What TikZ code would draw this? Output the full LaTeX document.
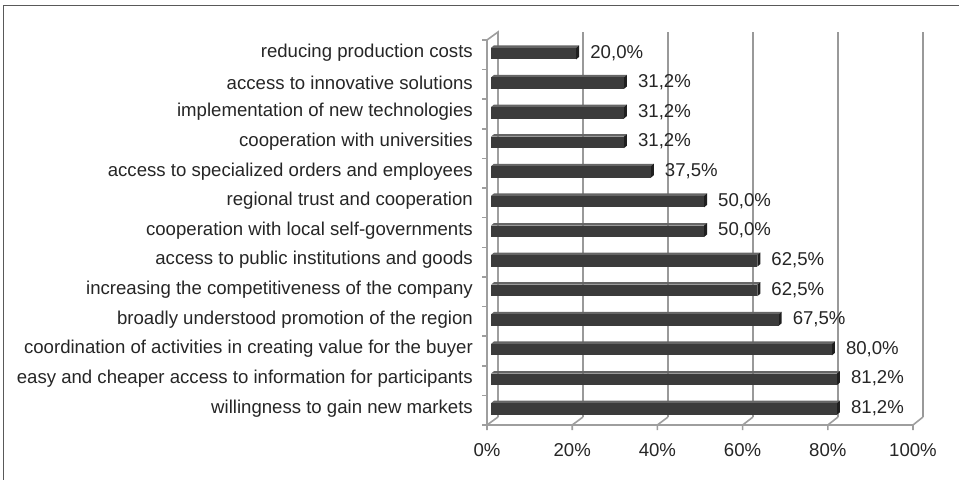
\documentclass[tikz,border=0pt]{standalone}
\usepackage{fontspec}
\setmainfont{Liberation Sans}
\begin{document}
\begin{tikzpicture}[x=1pt,y=-1pt,
  lab/.style={font=\fontsize{18.6}{21}\selectfont, text=black!85, inner sep=0pt},
  catlab/.style={lab, anchor=east},
  vallab/.style={lab, anchor=west},
  axlab/.style={lab, anchor=center},
  wall/.style={draw=black!38, line width=1.6pt},
  grid/.style={draw=black!40, line width=2pt},
  barfront/.style={fill=black!77},
  bartop/.style={fill=black!60},
  barside/.style={fill=black!88},
  frame/.style={draw=black!65, line width=1.6pt}]
\useasboundingbox (0,0) rectangle (959,480);
\fill[white] (0,0) rectangle (959,480);
% frame (top and left)
\coordinate (ftl) at (3.5,5.5);
\coordinate (ftr) at (959,5.5);
\coordinate (fbl) at (3.5,480);
\draw[frame] (ftr) -- (ftl) -- (fbl);
% back-wall gridlines and floor diagonals
\foreach \p in {20,40,60,80,100}{
  \coordinate (gb\p) at ({498+\p*4.25},32);
  \coordinate (gf\p) at ({498+\p*4.25},417);
  \coordinate (ff\p) at ({487+\p*4.26},425);
  \coordinate (ft\p) at ({487+\p*4.26},430);
  \draw[grid] (gb\p) -- (gf\p);
  \draw[wall] (gf\p) -- (ff\p) -- (ft\p);
}
% left wall
\coordinate (lwft) at (487,40);
\coordinate (lwbt) at (498,32);
\coordinate (lwbb) at (498,417);
\coordinate (lwfb) at (487,425);
\coordinate (lwtk) at (487,430);
\draw[wall] (lwbb) -- (lwbt) -- (lwft) -- (lwfb) -- (lwtk);
\draw[wall] (lwbb) -- (lwfb);
% floor front edge
\draw[wall] (lwfb) -- (ff100);
% left ticks
\foreach \k in {0,...,13}{
  \coordinate (tk\k) at (482,{40+\k*29.615});
  \coordinate (tkr\k) at (487,{40+\k*29.615});
  \draw[wall] (tk\k) -- (tkr\k);
}
% bars
\foreach \k/\v/\vt/\c in {
 0/20.0/{20,0\%}/{reducing production costs},
 1/31.2/{31,2\%}/{access to innovative solutions},
 2/31.2/{31,2\%}/{implementation of new technologies},
 3/31.2/{31,2\%}/{cooperation with universities},
 4/37.5/{37,5\%}/{access to specialized orders and employees},
 5/50.0/{50,0\%}/{regional trust and cooperation},
 6/50.0/{50,0\%}/{cooperation with local self-governments},
 7/62.5/{62,5\%}/{access to public institutions and goods\ },
 8/62.5/{62,5\%}/{increasing the competitiveness of the company},
 9/67.5/{67,5\%}/{broadly understood promotion of the region},
 10/80.0/{80,0\%}/{coordination of activities in creating value for the buyer},
 11/81.2/{81,2\%}/{easy and cheaper access to information for participants},
 12/81.2/{81,2\%}/{willingness to gain new markets}}{
  \pgfmathsetmacro{\yc}{40+(\k+0.5)*29.615-2}
  \pgfmathsetmacro{\xe}{491+\v*4.26}
  \fill[bartop] (491,\yc-5) -- (494,\yc-7.5) -- (\xe+3,\yc-7.5) -- (\xe,\yc-5) -- cycle;
  \fill[barside] (\xe,\yc-5) -- (\xe+3,\yc-7.5) -- (\xe+3,\yc+4) -- (\xe,\yc+6.5) -- cycle;
  \fill[barfront] (491,\yc-5) rectangle (\xe,\yc+6.5);
  \node[catlab] (c\k) at (473,\yc) {\c};
  \node[vallab] (v\k) at (\xe+14,\yc) {\vt};
}
% axis labels
\foreach \p in {0,20,40,60,80,100}{
  \node[axlab] (a\p) at ({487+\p*4.26},450) {\p\%};
}
\end{tikzpicture}
\end{document}
